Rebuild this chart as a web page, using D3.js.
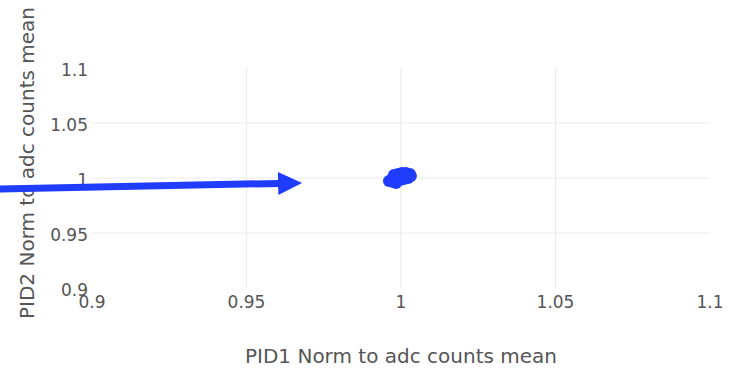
<!DOCTYPE html>
<html>
<head>
<meta charset="utf-8">
<script src="https://cdn.jsdelivr.net/npm/d3@7"></script>
<style>
  html, body { margin: 0; padding: 0; background: #fff; }
  svg { display: block; }
</style>
</head>
<body>
<div id="chart"></div>
<script>
// Tick values for both axes
const xTicks = [0.9, 0.95, 1, 1.05, 1.1];
const yTicks = [0.9, 0.95, 1, 1.05, 1.1];

// Scatter values (cluster around 1, 1)
const pid1 = [0.9961, 0.9971, 0.9981, 0.9990, 1.0000, 1.0010, 1.0019, 1.0029, 1.0032,
              0.9974, 0.9987, 0.9997, 1.0010, 1.0023, 0.9977, 0.9990, 1.0003, 1.0016, 0.9984];
const pid2 = [0.9973, 0.9991, 1.0000, 1.0009, 1.0018, 1.0027, 1.0027, 1.0036, 1.0018,
              0.9964, 0.9973, 0.9982, 0.9991, 1.0000, 1.0027, 1.0036, 1.0045, 1.0045, 0.9955];

// Hand-drawn arrow annotation (data coordinates)
const arrowFrom = [0.8702, 0.9900];
const arrowTo = [0.9680, 0.9955];

const xTitle = "PID1 Norm to adc counts mean";
const yTitle = "PID2 Norm to adc counts mean";

function drawChart() {
    const width = 730, height = 376;
    const font = "'DejaVu Sans', Verdana, sans-serif";
    const blue = "#1f3cff";

    const svg = d3.select("#chart").append("svg")
        .attr("width", width)
        .attr("height", height);

    const x = d3.scaleLinear().domain([0.9, 1.1]).range([92, 710]);
    const y = d3.scaleLinear().domain([0.9, 1.1]).range([288, 68]);

    // Grid lines (interior ticks only)
    svg.append("g")
        .attr("class", "grid x-grid")
        .selectAll("line")
        .data(xTicks.slice(1, -1))
        .join("line")
        .attr("x1", d => x(d)).attr("x2", d => x(d))
        .attr("y1", y(1.1)).attr("y2", y(0.9))
        .attr("stroke", "#ebebeb")
        .attr("stroke-width", 1.2);

    svg.append("g")
        .attr("class", "grid y-grid")
        .selectAll("line")
        .data(yTicks.slice(1, -1))
        .join("line")
        .attr("x1", x(0.9)).attr("x2", x(1.1))
        .attr("y1", d => y(d)).attr("y2", d => y(d))
        .attr("stroke", "#ebebeb")
        .attr("stroke-width", 1.2);

    // Tick labels
    svg.append("g")
        .selectAll("text")
        .data(xTicks)
        .join("text")
        .attr("x", d => x(d))
        .attr("y", y(0.9) + 20)
        .attr("text-anchor", "middle")
        .attr("font-family", font)
        .attr("font-size", "17px")
        .attr("fill", "#555")
        .text(d => d3.format("~g")(d));

    svg.append("g")
        .selectAll("text")
        .data(yTicks)
        .join("text")
        .attr("x", 88)
        .attr("y", d => y(d) + 8)
        .attr("text-anchor", "end")
        .attr("font-family", font)
        .attr("font-size", "17px")
        .attr("fill", "#555")
        .text(d => d3.format("~g")(d));

    // Axis titles
    svg.append("text")
        .attr("x", x(1))
        .attr("y", 363)
        .attr("text-anchor", "middle")
        .attr("font-family", font)
        .attr("font-size", "20px")
        .attr("fill", "#555")
        .text(xTitle);

    svg.append("text")
        .attr("transform", `translate(34, 163) rotate(-90)`)
        .attr("text-anchor", "middle")
        .attr("font-family", font)
        .attr("font-size", "20px")
        .attr("fill", "#555")
        .text(yTitle);

    // Scatter points
    svg.append("g")
        .selectAll("circle")
        .data(pid1.map((v, i) => [v, pid2[i]]))
        .join("circle")
        .attr("cx", d => x(d[0]))
        .attr("cy", d => y(d[1]))
        .attr("r", 6)
        .attr("fill", blue);

    // Arrow: shaft then head
    const x0 = x(arrowFrom[0]), y0 = y(arrowFrom[1]);
    const x1 = x(arrowTo[0]), y1 = y(arrowTo[1]);
    const len = Math.hypot(x1 - x0, y1 - y0);
    const ux = (x1 - x0) / len, uy = (y1 - y0) / len;
    const headLen = 24, headHalf = 11.5;
    const bx = x1 - ux * headLen, by = y1 - uy * headLen;

    svg.append("line")
        .attr("x1", x0).attr("y1", y0)
        .attr("x2", bx + ux * 2).attr("y2", by + uy * 2)
        .attr("stroke", blue)
        .attr("stroke-width", 7);

    svg.append("polygon")
        .attr("points", [
            [x1, y1],
            [bx - uy * headHalf, by + ux * headHalf],
            [bx + uy * headHalf, by - ux * headHalf]
        ].map(p => p.join(",")).join(" "))
        .attr("fill", blue);
}

drawChart();
</script>
</body>
</html>
